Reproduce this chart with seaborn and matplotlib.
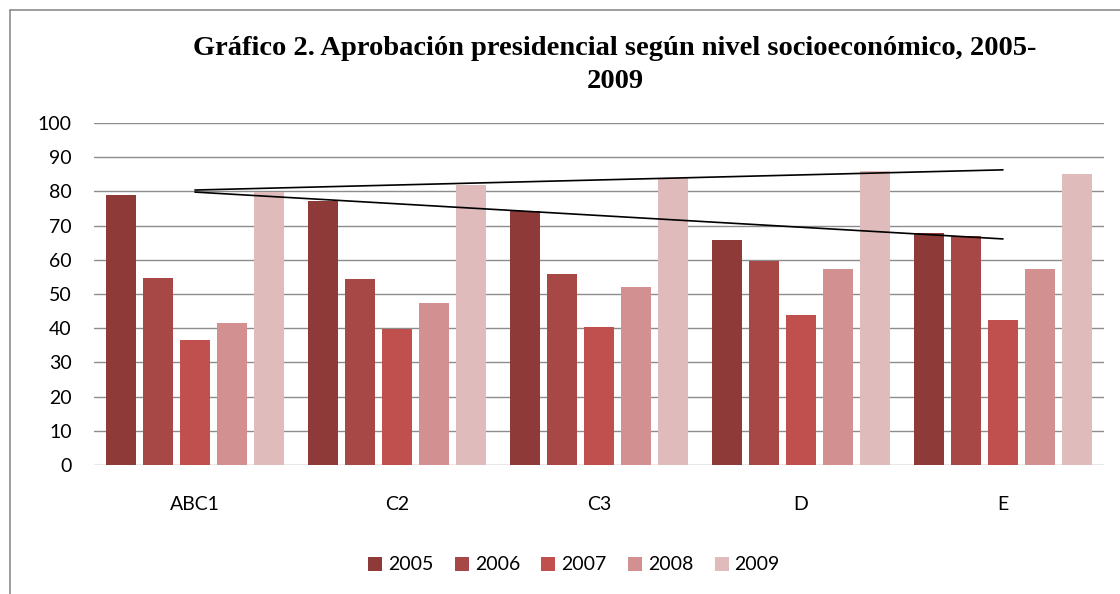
import pandas as pd
import numpy as np
import matplotlib
matplotlib.use("Agg")
import matplotlib.pyplot as plt
import seaborn as sns
from matplotlib.lines import Line2D

# ---------------------------------------------------------
# Datos
# ---------------------------------------------------------
niveles = ["ABC1", "C2", "C3", "D", "E"]
anios = ["2005", "2006", "2007", "2008", "2009"]

aprob_2005 = [78.9, 77.2, 74.2, 65.7, 67.8]
aprob_2006 = [54.7, 54.4, 55.8, 59.6, 67.0]
aprob_2007 = [36.5, 39.9, 40.3, 43.9, 42.3]
aprob_2008 = [41.5, 47.4, 52.1, 57.3, 57.3]
aprob_2009 = [79.7, 82.0, 83.8, 86.0, 85.1]

# líneas de tendencia dibujadas a mano (ABC1 -> E)
linea_sup = [80.4, 86.3]
linea_inf = [79.8, 66.1]

colores = ["#8E3A38", "#A84846", "#C0504D", "#D29190", "#E0BBBB"]

titulo = "Gráfico 2. Aprobación presidencial según nivel socioeconómico, 2005-\n2009"

# tabla larga para seaborn
series = [aprob_2005, aprob_2006, aprob_2007, aprob_2008, aprob_2009]
df = pd.DataFrame({
    "nivel": np.tile(niveles, len(anios)),
    "anio": np.repeat(anios, len(niveles)),
    "valor": np.concatenate(series),
})

# ---------------------------------------------------------
# Figura
# ---------------------------------------------------------
sns.set_theme(style="white")
plt.rcParams["font.family"] = ["Lato", "DejaVu Sans"]
plt.rcParams["text.color"] = "black"
plt.rcParams["xtick.color"] = "black"
plt.rcParams["ytick.color"] = "black"

W, H = 1120, 594
fig = plt.figure(figsize=(W / 100, H / 100), dpi=100)
ax = fig.add_axes([94 / W, 1 - 465 / H, (1104 - 94) / W, (465 - 123) / H])

sns.barplot(
    data=df, x="nivel", y="valor", hue="anio",
    palette=colores, width=0.92, gap=0.2,
    linewidth=0, saturation=1, legend=True, ax=ax
)

# líneas negras
ax.plot([0, 4], linea_sup, color="black", lw=1.2, zorder=5)
ax.plot([0, 4], linea_inf, color="black", lw=1.2, zorder=5)

ax.set_xlim(-0.5, 4.5)
ax.set_ylim(0, 100)
ax.set_yticks(range(0, 101, 10))
ax.set_xlabel("")
ax.set_ylabel("")
ax.yaxis.grid(True, color="#8C8C8C", lw=1.0)
ax.set_axisbelow(True)
for s in ax.spines.values():
    s.set_visible(False)
ax.tick_params(axis="y", length=0, pad=16, labelsize=14, labelcolor="black")
ax.tick_params(axis="x", length=0, pad=22, labelsize=14, labelcolor="black")

# leyenda abajo
handles, labels = ax.get_legend_handles_labels()
ax.get_legend().remove()
fig.legend(
    handles, labels, ncol=5, loc="center",
    bbox_to_anchor=(574 / W, 1 - 565 / H), frameon=False,
    fontsize=14, handlelength=0.72, handleheight=0.72,
    handletextpad=0.3, columnspacing=1.1, labelcolor="black"
)

# título
fig.text(615 / W, 1 - 65 / H, titulo, ha="center", va="center",
         fontsize=20.5, fontweight="bold", family=["Liberation Serif"],
         color="black", linespacing=1.4)

# marco del área del gráfico
fig.add_artist(Line2D([9.5 / W, 9.5 / W], [0, 1 - 10 / H],
                      color="#8C8C8C", lw=1.2, transform=fig.transFigure))
fig.add_artist(Line2D([9.5 / W, 1], [1 - 10 / H, 1 - 10 / H],
                      color="#8C8C8C", lw=1.2, transform=fig.transFigure))

fig.savefig("out.png", dpi=100)
